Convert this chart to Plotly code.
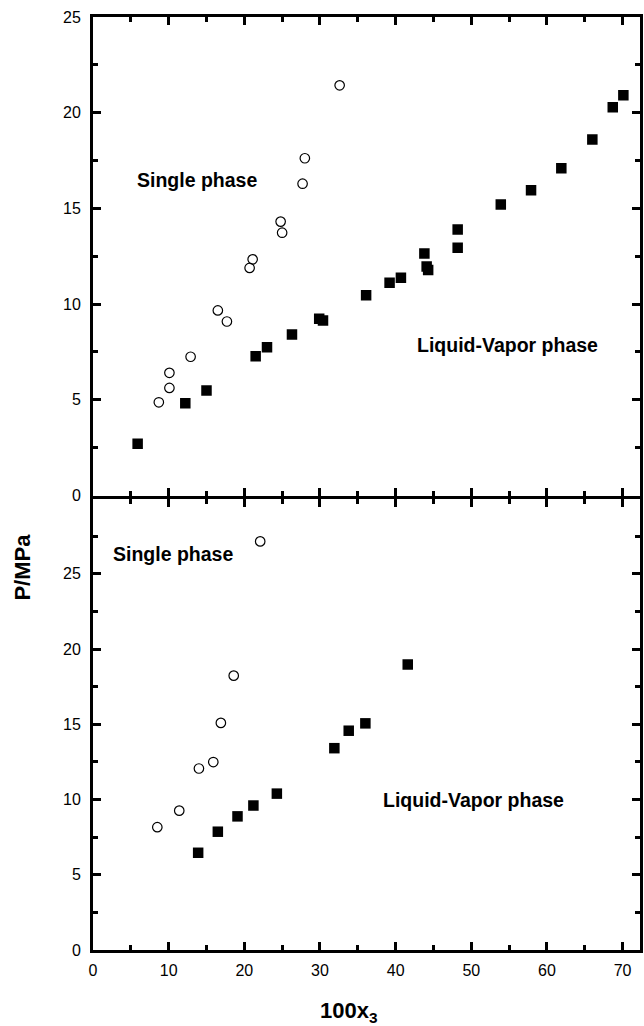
import plotly.graph_objects as go

# ---- data ----
# top panel
top_single_x = [8.7, 10.1, 10.1, 12.9, 16.5, 17.7, 20.7, 21.1, 24.8, 25.0, 27.7, 28.0, 32.6]
top_single_y = [4.87, 5.62, 6.41, 7.25, 9.67, 9.09, 11.89, 12.34, 14.31, 13.73, 16.29, 17.62, 21.43]
top_lv_x = [5.9, 12.2, 15.0, 21.5, 23.0, 26.3, 29.9, 30.4, 36.1, 39.2, 40.7, 43.8, 44.1, 44.3,
            48.2, 48.2, 53.9, 57.9, 61.9, 66.0, 68.7, 70.1]
top_lv_y = [2.71, 4.82, 5.49, 7.28, 7.75, 8.41, 9.23, 9.14, 10.46, 11.12, 11.38, 12.64, 11.96, 11.78,
            13.90, 12.95, 15.21, 15.95, 17.10, 18.60, 20.28, 20.91]
# bottom panel
bot_single_x = [8.5, 11.4, 14.0, 15.9, 16.9, 18.6, 22.1]
bot_single_y = [8.16, 9.26, 12.06, 12.49, 15.09, 18.23, 27.15]
bot_lv_x = [13.9, 16.5, 19.1, 21.2, 24.3, 31.9, 33.8, 36.0, 41.6]
bot_lv_y = [6.46, 7.86, 8.88, 9.60, 10.39, 13.41, 14.57, 15.06, 18.97]

x_ticks = [0, 10, 20, 30, 40, 50, 60, 70]
top_y_ticks = [0, 5, 10, 15, 20, 25]
bot_y_ticks = [0, 5, 10, 15, 20, 25]

FONT = "Arial, Liberation Sans, sans-serif"

fig = go.Figure()

circle = dict(symbol="circle-open", size=9.5, color="black", line=dict(width=1.2, color="black"))
square = dict(symbol="square", size=10.5, color="black")

fig.add_trace(go.Scatter(x=top_single_x, y=top_single_y, mode="markers", marker=circle,
                         xaxis="x2", yaxis="y2", showlegend=False))
fig.add_trace(go.Scatter(x=top_lv_x, y=top_lv_y, mode="markers", marker=square,
                         xaxis="x2", yaxis="y2", showlegend=False))
fig.add_trace(go.Scatter(x=bot_single_x, y=bot_single_y, mode="markers", marker=circle,
                         xaxis="x", yaxis="y", showlegend=False))
fig.add_trace(go.Scatter(x=bot_lv_x, y=bot_lv_y, mode="markers", marker=square,
                         xaxis="x", yaxis="y", showlegend=False))

axis_common = dict(
    showline=True, linecolor="black", linewidth=3, mirror="ticks",
    ticks="inside", ticklen=8, tickwidth=2.5, tickcolor="black",
    showgrid=False, zeroline=False,
    tickfont=dict(family=FONT, size=16, color="black"),
    minor=dict(ticks="inside", ticklen=5, tickwidth=2.5, tickcolor="black", showgrid=False),
)

PH = 933  # plot area height in px (1026 - 17 - 76)
bot_top = (950 - 498.5) / PH
top_bot = (950 - 495.5) / PH

fig.update_layout(
    width=644, height=1026,
    margin=dict(l=93, r=1, t=17, b=76),
    paper_bgcolor="white", plot_bgcolor="white",
    xaxis=dict(axis_common, domain=[0, 1], anchor="y", range=[0, 72.3],
               tickmode="array", tickvals=x_ticks, ticklabelstandoff=4,
               minor=dict(axis_common["minor"], dtick=5, tick0=0)),
    yaxis=dict(axis_common, domain=[0, bot_top], anchor="x", range=[0, 30],
               tickmode="array", tickvals=bot_y_ticks, ticklabelstandoff=6,
               minor=dict(axis_common["minor"], dtick=2.5, tick0=0)),
    xaxis2=dict(axis_common, domain=[0, 1], anchor="y2", range=[0, 72.3], matches="x",
                tickmode="array", tickvals=x_ticks, showticklabels=False,
                minor=dict(axis_common["minor"], dtick=5, tick0=0)),
    yaxis2=dict(axis_common, domain=[top_bot, 1], anchor="x2", range=[0, 25],
                tickmode="array", tickvals=top_y_ticks, ticklabelstandoff=6,
                minor=dict(axis_common["minor"], dtick=2.5, tick0=0)),
)

ann_font = dict(family=FONT, size=19.5, color="black", weight="bold")
annotations = [
    dict(text="Single phase", x=13.74, y=16.47, xref="x2", yref="y2"),
    dict(text="Liquid-Vapor phase", x=54.75, y=7.88, xref="x2", yref="y2"),
    dict(text="Single phase", x=10.53, y=26.31, xref="x", yref="y"),
    dict(text="Liquid-Vapor phase", x=50.33, y=9.94, xref="x", yref="y"),
]
for a in annotations:
    fig.add_annotation(showarrow=False, font=ann_font, xanchor="center", yanchor="middle", **a)

fig.add_annotation(text="<b>P/MPa</b>", xref="paper", yref="paper",
                   x=(21.7 - 93) / 550, y=(950 - 567.5) / PH, textangle=-90,
                   showarrow=False, xanchor="center", yanchor="middle",
                   font=dict(family=FONT, size=22, color="black"))
fig.add_annotation(text="<b>100x<sub>3</sub></b>", xref="paper", yref="paper",
                   x=(350 - 93) / 550, y=(950 - 1012) / PH,
                   showarrow=False, xanchor="center", yanchor="middle",
                   font=dict(family=FONT, size=22, color="black"))

fig.write_html("out.html")
